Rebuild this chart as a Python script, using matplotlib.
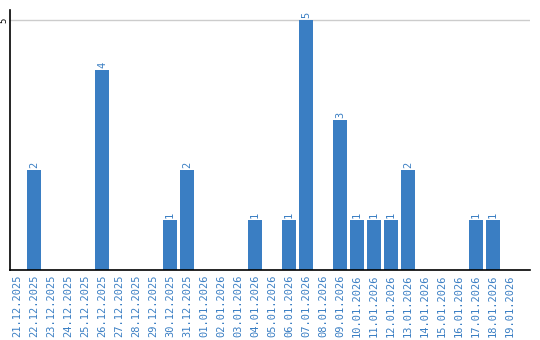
import matplotlib
matplotlib.use("Agg")
import matplotlib.pyplot as plt

dates = ["21.12.2025", "22.12.2025", "23.12.2025", "24.12.2025", "25.12.2025",
         "26.12.2025", "27.12.2025", "28.12.2025", "29.12.2025", "30.12.2025",
         "31.12.2025", "01.01.2026", "02.01.2026", "03.01.2026", "04.01.2026",
         "05.01.2026", "06.01.2026", "07.01.2026", "08.01.2026", "09.01.2026",
         "10.01.2026", "11.01.2026", "12.01.2026", "13.01.2026", "14.01.2026",
         "15.01.2026", "16.01.2026", "17.01.2026", "18.01.2026", "19.01.2026"]
values = [0, 2, 0, 0, 0, 4, 0, 0, 0, 1, 2, 0, 0, 0, 1, 0, 1, 5, 0, 3,
          1, 1, 1, 2, 0, 0, 0, 1, 1, 0]

BLUE = "#3a7ec3"
fig = plt.figure(figsize=(5.4, 3.4), dpi=100)
ax = fig.add_axes([10/540, 70/340, 520/540, 260/340])
x = list(range(len(dates)))
ax.bar(x, values, width=0.82, color=BLUE, zorder=2)
ax.set_xlim(-0.41, 30.18)
ax.set_ylim(0, 5.2)
ax.set_yticks([5])
ax.set_yticklabels(["5"], rotation=90, fontsize=6.5, va="center", family="DejaVu Sans Mono")
ax.tick_params(axis="y", length=0, pad=1)
ax.yaxis.grid(True, color="#cccccc", linewidth=1, zorder=0)
ax.set_xticks(x)
ax.set_xticklabels(dates, rotation=90, fontsize=7.5, color=BLUE, family="DejaVu Sans Mono")
ax.tick_params(axis="x", length=0, pad=3)
for s in ["top", "right"]:
    ax.spines[s].set_visible(False)
for s in ["left", "bottom"]:
    ax.spines[s].set_color("black")
    ax.spines[s].set_linewidth(1.2)
for xi, v in zip(x, values):
    if v > 0:
        ax.text(xi, v + 0.05, str(v), rotation=90, ha="center", va="bottom",
                fontsize=7.5, color=BLUE, family="DejaVu Sans Mono")
fig.savefig("out.png", dpi=100)
